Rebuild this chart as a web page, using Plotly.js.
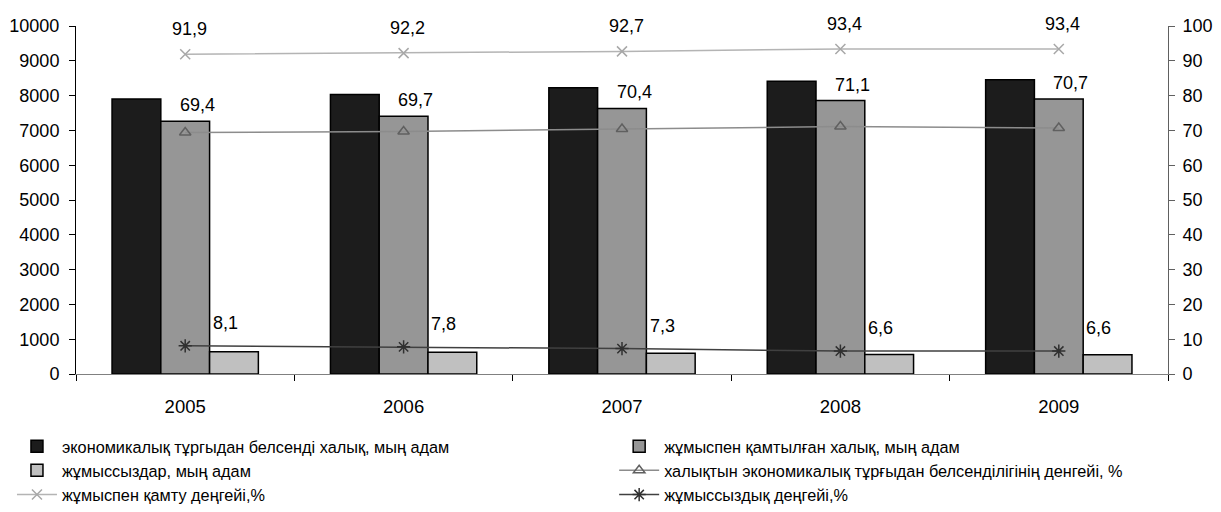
<!DOCTYPE html>
<html>
<head>
<meta charset="utf-8">
<script src="https://cdn.plot.ly/plotly-3.0.1.min.js"></script>
<style>html,body{margin:0;padding:0;background:#fff}#chart{width:1221px;height:512px}</style>
</head>
<body>
<div id="chart"></div>
<script>
const years = ['2005', '2006', '2007', '2008', '2009'];
const econActive = [7901.7, 8028.9, 8228.4, 8415.0, 8457.6];
const employed = [7261.0, 7403.5, 7631.1, 7857.2, 7903.4];
const unemployed = [640.7, 625.4, 597.2, 557.8, 554.2];
const activityRate = [69.4, 69.7, 70.4, 71.1, 70.7];
const employmentRate = [91.9, 92.2, 92.7, 93.4, 93.4];
const unemploymentRate = [8.1, 7.8, 7.3, 6.6, 6.6];

const names = [
  'экономикалық тұргыдан белсенді халық, мың адам',
  'жұмыспен қамтылған халық, мың адам',
  'жұмыссыздар, мың адам',
  'халықтын экономикалық тұрғыдан белсенділігінің денгейі, %',
  'жұмыспен қамту деңгейі,%',
  'жұмыссыздық деңгейі,%'
];

const FONT = 'Liberation Sans, Arial, sans-serif';
const barLine = {color: '#000', width: 1.5};

const traces = [
  {type: 'bar', x: years, y: econActive, name: names[0], legend: 'legend', marker: {color: '#1c1c1c', line: barLine}},
  {type: 'bar', x: years, y: employed, name: names[1], legend: 'legend2', marker: {color: '#969696', line: barLine}},
  {type: 'bar', x: years, y: unemployed, name: names[2], legend: 'legend', marker: {color: '#c0c0c0', line: barLine}},
  {type: 'scatter', mode: 'lines+markers', x: years, y: activityRate, yaxis: 'y2', name: names[3], legend: 'legend2',
   line: {color: '#8c8c8c', width: 1.5},
   marker: {symbol: 'triangle-up-open', size: 10, color: '#606060', line: {width: 1.5, color: '#606060'}}},
  {type: 'scatter', mode: 'lines+markers', x: years, y: employmentRate, yaxis: 'y2', name: names[4], legend: 'legend',
   line: {color: '#b4b4b4', width: 1.5},
   marker: {symbol: 'x-thin-open', size: 10, color: '#a8a8a8', line: {width: 1.5, color: '#a8a8a8'}}},
  {type: 'scatter', mode: 'lines+markers', x: years, y: unemploymentRate, yaxis: 'y2', name: names[5], legend: 'legend2',
   line: {color: '#404040', width: 1.5},
   marker: {symbol: 'asterisk-open', size: 11, color: '#303030', line: {width: 1.5, color: '#303030'}}}
];

const fmt = v => v.toFixed(1).replace('.', ',');
const annotations = [];
function addLabels(vals, posVals, yref, xs, ys) {
  vals.forEach((v, i) => annotations.push({
    x: i, y: posVals[i], xref: 'x', yref: yref, text: fmt(v), showarrow: false,
    xshift: xs, yshift: ys, font: {family: FONT, size: 18, color: '#000'}
  }));
}
addLabels(employmentRate, employmentRate, 'y2', 4, 25);
addLabels(activityRate, employed, 'y', 12, 16);
addLabels(unemploymentRate, unemploymentRate, 'y2', 40, 23);

const legendBase = {orientation: 'v', yanchor: 'top', xanchor: 'left', y: 0.162,
  xref: 'container', yref: 'container',
  font: {family: FONT, size: 16.3, color: '#000'}, itemwidth: 40, tracegroupgap: 0,
  bgcolor: 'rgba(0,0,0,0)', traceorder: 'normal'};

const layout = {
  width: 1221, height: 512,
  margin: {l: 76, r: 53, t: 26, b: 138, autoexpand: false},
  paper_bgcolor: '#fff', plot_bgcolor: '#fff',
  font: {family: FONT, size: 18, color: '#000'},
  barmode: 'group', bargap: 0.33, bargroupgap: 0,
  showlegend: true,
  xaxis: {type: 'category', range: [-0.5, 4.5], tickson: 'boundaries', ticks: 'outside', ticklen: 6,
    tickcolor: '#000', showline: true, linecolor: '#808080', linewidth: 1, showgrid: false, zeroline: false,
    tickangle: 0, ticklabelstandoff: 16, tickfont: {size: 18.5}},
  yaxis: {range: [0, 10000], dtick: 1000, ticks: 'outside', ticklen: 6, tickcolor: '#000', showline: true,
    linecolor: '#000', linewidth: 1, showgrid: false, zeroline: false, exponentformat: 'none', tickformat: 'd',
    ticklabelstandoff: 6, tickfont: {size: 18}},
  yaxis2: {overlaying: 'y', side: 'right', range: [0, 100], dtick: 10, ticks: 'outside', ticklen: 6, tickcolor: '#606060',
    showline: true, linecolor: '#606060', linewidth: 1, showgrid: false, zeroline: false, ticklabelstandoff: 4,
    tickfont: {size: 18}},
  legend: Object.assign({}, legendBase, {x: 0.0098}),
  legend2: Object.assign({}, legendBase, {x: 0.503}),
  annotations: annotations
};

Plotly.newPlot('chart', traces, layout, {displayModeBar: false, staticPlot: true});
</script>
</body>
</html>
